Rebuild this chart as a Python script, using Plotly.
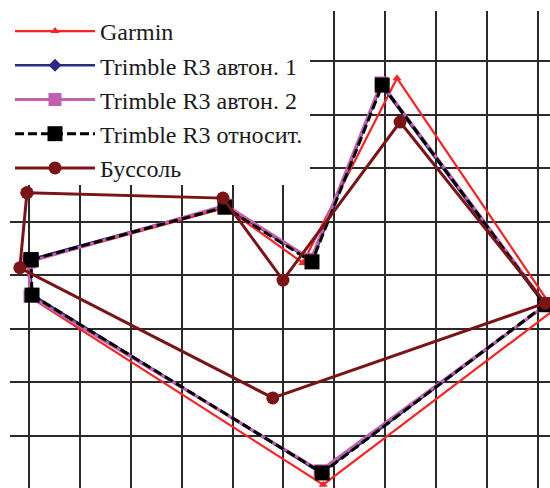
import plotly.graph_objects as go

# Grid-unit coordinates (closed polygons)
garmin_x = [-0.02, 3.87, 5.38, 7.23, 10.31, 5.78, 0.02, -0.02]
garmin_y = [3.25, 4.26, 3.23, 6.68, 2.35, -0.91, 2.59, 3.25]

auto1_x = [0.04, 3.85, 5.56, 6.92, 10.14, 5.74, 0.04, 0.04]
auto1_y = [3.30, 4.29, 3.27, 6.55, 2.43, -0.69, 2.65, 3.30]

auto2_x = [0.00, 3.87, 5.54, 6.92, 10.16, 5.72, 0.02, 0.00]
auto2_y = [3.25, 4.31, 3.30, 6.59, 2.45, -0.65, 2.61, 3.25]

rel_x = [0.04, 3.85, 5.56, 6.94, 10.14, 5.76, 0.06, 0.04]
rel_y = [3.29, 4.27, 3.25, 6.55, 2.45, -0.69, 2.63, 3.29]

bus_x = [-0.04, 3.81, 4.99, 7.29, 10.14, 4.79, -0.18, -0.04]
bus_y = [4.54, 4.44, 2.91, 5.86, 2.48, 0.71, 3.14, 4.54]

names = ["Garmin", "Trimble R3 автон. 1", "Trimble R3 автон. 2",
         "Trimble R3 относит.", "Буссоль"]

fig = go.Figure()
fig.add_trace(go.Scatter(x=garmin_x, y=garmin_y, name=names[0], mode="lines+markers",
                         line=dict(color="#FF2222", width=2.2),
                         marker=dict(symbol="triangle-up", size=8, color="#FF2222")))
fig.add_trace(go.Scatter(x=auto1_x, y=auto1_y, name=names[1], mode="lines+markers",
                         line=dict(color="#2B2B85", width=2.5),
                         marker=dict(symbol="diamond", size=10, color="#2B2B85")))
fig.add_trace(go.Scatter(x=auto2_x, y=auto2_y, name=names[2], mode="lines+markers",
                         line=dict(color="#C060B0", width=3),
                         marker=dict(symbol="square", size=13, color="#C060B0")))
fig.add_trace(go.Scatter(x=rel_x, y=rel_y, name=names[3], mode="lines+markers",
                         line=dict(color="#000000", width=3, dash="9px,4px"),
                         marker=dict(symbol="square", size=15, color="#000000")))
fig.add_trace(go.Scatter(x=bus_x, y=bus_y, name=names[4], mode="lines+markers",
                         line=dict(color="#7A1416", width=3),
                         marker=dict(symbol="circle", size=13, color="#7A1416")))

axis_common = dict(showgrid=True, gridcolor="#2a2a2a", gridwidth=2, zeroline=False,
                   showticklabels=False, ticks="", showline=False, tick0=0, dtick=1,
                   fixedrange=True)

# white panel behind the legend (no data marks fall inside it)
fig.add_shape(type="rect", xref="paper", yref="paper",
              x0=0, x1=300/540, y0=(488-185)/477, y1=1,
              fillcolor="white", line_width=0, layer="above")

fig.update_layout(
    width=550, height=488,
    margin=dict(l=10, r=0, t=11, b=0, autoexpand=False),
    paper_bgcolor="white", plot_bgcolor="white",
    xaxis=dict(range=[-0.373, 10.236], **axis_common),
    yaxis=dict(range=[-0.971, 7.933], **axis_common),
    showlegend=True,
    legend=dict(x=0, y=1 + 2/477, xanchor="left", yanchor="top",
                bgcolor="rgba(0,0,0,0)", borderwidth=0, itemwidth=80,
                font=dict(family="Liberation Serif, Times New Roman, serif",
                          size=24, color="#1a1a1a")),
)

fig.write_html("out.html", config={"displayModeBar": False},
               post_script="document.body.style.margin='0';document.body.style.overflow='hidden';")
